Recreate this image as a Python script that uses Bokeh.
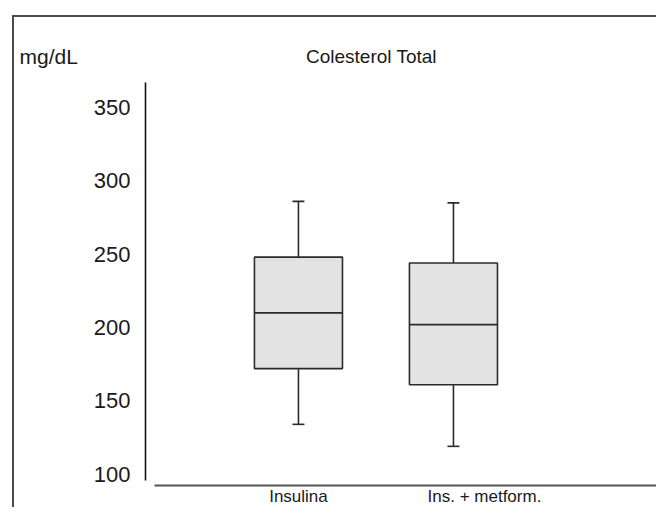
from bokeh.plotting import figure
from bokeh.models import FixedTicker, Label
from bokeh.embed import file_html
from bokeh.resources import INLINE

# ---- data ----
categories = ["Insulina", "Ins. + metform."]
lower_whisker = [134, 119]
q1 = [172, 161]
median = [210, 202]
q3 = [248, 244]
upper_whisker = [286, 285]
y_ticks = [100, 150, 200, 250, 300, 350]
title_text = "Colesterol Total"
unit_text = "mg/dL"

# ---- style / layout ----
FONT = "Liberation Sans"
LINE = "#2b2b2b"
BOX_W = 0.568
CAP_W = 0.077
label_shift = [0.0, 0.2]
xs = [i + 1 for i in range(len(categories))]

p = figure(width=656, height=507, output_backend="svg", toolbar_location=None,
           x_range=(-0.832, 3.31), y_range=(77.3, 411.4),
           min_border_left=14, min_border_top=17, min_border_bottom=0,
           min_border_right=0)
p.styles = {
    "background-color": "white",
    "background-image": "linear-gradient(#4a4a4a, #4a4a4a), linear-gradient(#4a4a4a, #4a4a4a)",
    "background-size": "2px 100%, 100% 2px",
    "background-position": "12px 15px, 12px 15px",
    "background-repeat": "no-repeat",
}
p.outline_line_color = None
p.grid.visible = False
p.background_fill_color = None
p.border_fill_color = None

# boxes
p.vbar(x=xs, width=BOX_W, bottom=q1, top=q3, fill_color="#e3e3e3",
       line_color=LINE, line_width=1.6)
p.segment(x0=[x - BOX_W / 2 for x in xs], x1=[x + BOX_W / 2 for x in xs],
          y0=median, y1=median, line_color=LINE, line_width=1.6)
# whiskers
p.segment(x0=xs, x1=xs, y0=q3, y1=upper_whisker, line_color=LINE, line_width=1.6)
p.segment(x0=xs, x1=xs, y0=q1, y1=lower_whisker, line_color=LINE, line_width=1.6)
p.segment(x0=[x - CAP_W / 2 for x in xs], x1=[x + CAP_W / 2 for x in xs],
          y0=upper_whisker, y1=upper_whisker, line_color=LINE, line_width=1.6)
p.segment(x0=[x - CAP_W / 2 for x in xs], x1=[x + CAP_W / 2 for x in xs],
          y0=lower_whisker, y1=lower_whisker, line_color=LINE, line_width=1.6)

# y axis (detached, drawn at a fixed x position left of the boxes)
ya = p.yaxis[0]
ya.fixed_location = 0.0129
ya.ticker = FixedTicker(ticks=y_ticks)
ya.bounds = (95.7, 367.1)
ya.axis_line_color = "#111111"
ya.axis_line_width = 1.6
ya.major_tick_line_color = None
ya.minor_tick_line_color = None
ya.major_tick_out = 0
ya.major_label_standoff = 15
ya.major_label_text_font = FONT
ya.major_label_text_font_size = "22px"
ya.major_label_text_color = "#1a1a1a"

# x axis (detached, drawn a little below the lowest y value)
tick_pos = [x + s for x, s in zip(xs, label_shift)]
xa = p.xaxis[0]
xa.fixed_location = 92.3
xa.ticker = FixedTicker(ticks=tick_pos)
xa.major_label_overrides = {t: c for t, c in zip(tick_pos, categories)}
xa.bounds = (0.071, 3.31)
xa.axis_line_color = "#555555"
xa.axis_line_width = 2
xa.major_tick_line_color = None
xa.minor_tick_line_color = None
xa.major_tick_out = 0
xa.major_label_standoff = 1
xa.major_label_text_font = FONT
xa.major_label_text_font_size = "17px"
xa.major_label_text_color = "#1a1a1a"

# title and unit
p.add_layout(Label(x=1.471, y=384.8, text=title_text,
                   text_align="center", text_baseline="middle", text_font=FONT,
                   text_font_size="19px", text_color="#1a1a1a"))
p.add_layout(Label(x=-0.8, y=384.8, text=unit_text,
                   text_align="left", text_baseline="middle", text_font=FONT,
                   text_font_size="21px", text_color="#1a1a1a"))

open("out.html", "w").write(file_html(p, INLINE))
